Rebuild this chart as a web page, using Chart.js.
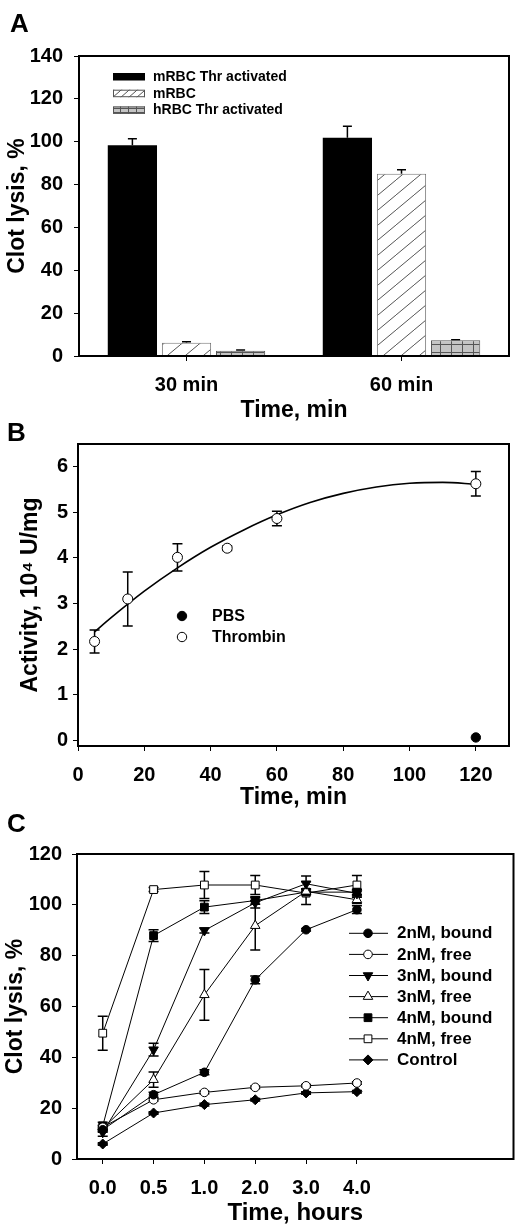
<!DOCTYPE html>
<html>
<head>
<meta charset="utf-8">
<script src="https://cdn.jsdelivr.net/npm/chart.js@4.4.1/dist/chart.umd.min.js"></script>
<style>
  body { margin: 0; background: #fff; width: 520px; height: 1228px; position: relative; overflow: hidden;
         font-family: "Liberation Sans", Arial, sans-serif; }
  canvas { position: absolute; left: 0; }
  .panel { position: absolute; font-weight: bold; font-size: 26px; line-height: 1; z-index: 2; }
</style>
</head>
<body>
<canvas id="chartA" width="520" height="425" style="top:0;width:520px;height:425px"></canvas>
<canvas id="chartB" width="520" height="395" style="top:420px;width:520px;height:395px"></canvas>
<canvas id="chartC" width="520" height="423" style="top:805px;width:520px;height:423px"></canvas>
<div class="panel" style="left:10px;top:10px">A</div>
<div class="panel" style="left:7px;top:419px">B</div>
<div class="panel" style="left:7px;top:810px">C</div>
<script>
// ---- panel A: clot lysis bars
const groups = ["30 min", "60 min"];
const mrbcThr = [98.4, 101.9];
const mrbcThrErr = [3.0, 5.3];
const mrbc = [6.2, 85.0];
const mrbcErr = [0.4, 1.9];
const hrbcThr = [2.5, 7.3];
const hrbcThrErr = [0.3, 0.3];

// ---- panel B: activity vs time
const actTimes = [5, 15, 30, 45, 60, 120];
const thrombin = [2.17, 3.10, 4.01, 4.21, 4.86, 5.62];
const thrombinErr = [0.25, 0.59, 0.30, 0.05, 0.16, 0.27];
const pbsTimes = [120];
const pbs = [0.07];
// fitted curve
const fitTimes = [5, 10, 20, 30, 40, 50, 60, 70, 80, 90, 100, 110, 120];
const fitAct = [2.38, 2.69, 3.27, 3.78, 4.23, 4.61, 4.94, 5.21, 5.41, 5.55, 5.63, 5.65, 5.61];

// ---- panel C: clot lysis vs time, categorical hours
const hours = ["0.0", "0.5", "1.0", "2.0", "3.0", "4.0"];
const bound2 = [11.5, 25.3, 34.1, 70.5, 90.2, 98.1];
const bound2Err = [1.0, 1.0, 1.0, 1.5, 0.5, 1.5];
const free2 = [12.5, 23.3, 26.2, 28.2, 28.8, 29.9];
const free2Err = [0.8, 0.5, 0.5, 0.5, 0.5, 0.5];
const bound3 = [10.5, 43.0, 89.9, 100.8, 108.3, 104.5];
const bound3Err = [1.5, 2.5, 1.0, 2.0, 3.0, 1.5];
const free3 = [12.0, 31.2, 64.6, 91.8, 105.3, 102.0];
const free3Err = [1.0, 3.0, 10.0, 9.6, 1.0, 1.5];
const bound4 = [13.0, 87.9, 99.1, 101.7, 105.0, 105.0];
const bound4Err = [1.5, 2.3, 2.5, 1.5, 1.0, 1.0];
const free4 = [49.5, 106.0, 107.8, 107.8, 104.6, 107.8];
const free4Err = [6.7, 0.8, 5.3, 3.7, 4.5, 3.7];
const control = [5.9, 18.1, 21.4, 23.3, 26.0, 26.5];
const controlErr = [0.5, 0.5, 0.5, 0.5, 0.5, 0.5];

Chart.defaults.font.family = '"Liberation Sans", Arial, sans-serif';
Chart.defaults.color = '#000';
Chart.defaults.animation = false;

const tickFont = { size: 20, weight: 'bold' };
const tickGrid = { drawOnChartArea: false, drawTicks: true, tickLength: 5, color: '#000', lineWidth: 1 };

// box around the plot area
const frame = {
  id: 'frame',
  afterDatasetsDraw(chart) {
    const a = chart.chartArea, ctx = chart.ctx;
    ctx.save();
    ctx.strokeStyle = '#000';
    ctx.lineWidth = 2;
    ctx.strokeRect(a.left, a.top, a.right - a.left, a.bottom - a.top);
    ctx.restore();
  }
};

// error bars from dataset.err
const errorBars = {
  id: 'errorBars',
  beforeDatasetsDraw(chart) {
    const ctx = chart.ctx, ys = chart.scales.y;
    chart.data.datasets.forEach((ds, i) => {
      if (!ds.err) return;
      const meta = chart.getDatasetMeta(i);
      ctx.save();
      ctx.strokeStyle = '#000';
      ctx.lineWidth = 1.5;
      meta.data.forEach((el, j) => {
        const d = ds.data[j];
        const v = typeof d === 'object' ? d.y : d;
        const e = ds.err[j];
        if (!e) return;
        const yTop = ys.getPixelForValue(v + e);
        const yBot = ys.getPixelForValue(ds.errUp ? v : v - e);
        const w = ds.cap || 5;
        ctx.beginPath();
        ctx.moveTo(el.x, yTop); ctx.lineTo(el.x, yBot);
        ctx.moveTo(el.x - w, yTop); ctx.lineTo(el.x + w, yTop);
        if (!ds.errUp) { ctx.moveTo(el.x - w, yBot); ctx.lineTo(el.x + w, yBot); }
        ctx.stroke();
      });
      ctx.restore();
    });
  }
};

function drawMarker(ctx, style, x, y, r, fill) {
  ctx.save();
  ctx.beginPath();
  if (style === 'circle') {
    ctx.arc(x, y, r, 0, Math.PI * 2);
  } else if (style === 'rect') {
    const s = r * Math.SQRT1_2;
    ctx.rect(x - s, y - s, 2 * s, 2 * s);
  } else if (style === 'triangle' || style === 'triangleDown') {
    const k = style === 'triangle' ? 1 : -1;
    ctx.moveTo(x, y - k * r);
    ctx.lineTo(x + r * 0.866, y + k * r * 0.5);
    ctx.lineTo(x - r * 0.866, y + k * r * 0.5);
    ctx.closePath();
  } else if (style === 'rectRot') {
    ctx.moveTo(x, y - r); ctx.lineTo(x + r, y); ctx.lineTo(x, y + r); ctx.lineTo(x - r, y);
    ctx.closePath();
  }
  ctx.fillStyle = fill;
  ctx.fill();
  ctx.lineWidth = 1;
  ctx.strokeStyle = '#000';
  ctx.stroke();
  ctx.restore();
}

// ---------- Panel A ----------
const ctxA = document.getElementById('chartA').getContext('2d');

function hatch(w, h, bg, color) {
  const c = document.createElement('canvas');
  c.width = w; c.height = h;
  const g = c.getContext('2d');
  g.fillStyle = bg; g.fillRect(0, 0, w, h);
  g.strokeStyle = color; g.lineWidth = 1;
  g.beginPath();
  g.moveTo(-w * 0.1, h * 1.1); g.lineTo(w * 1.1, -h * 0.1);
  g.stroke();
  return ctxA.createPattern(c, 'repeat');
}
function grid(w, h, bg, color) {
  const c = document.createElement('canvas');
  c.width = w; c.height = h;
  const g = c.getContext('2d');
  g.fillStyle = bg; g.fillRect(0, 0, w, h);
  g.fillStyle = color;
  g.fillRect(0, 0, w, 1);
  g.fillRect(0, 0, 1, h);
  return ctxA.createPattern(c, 'repeat');
}
const hatchBar = hatch(18, 15, '#fff', '#555');
const hatchKey = hatch(8, 7, '#fff', '#555');
const gridBar = grid(11, 8, '#c4c4c4', '#555');
const gridKey = grid(8, 4, '#c4c4c4', '#555');

const legendA = {
  id: 'legendA',
  afterDraw(chart) {
    const ctx = chart.ctx;
    const keys = [hatchKey, gridKey];
    chart.data.datasets.forEach((ds, i) => {
      const y = 76.7 + i * 16.7;
      ctx.save();
      ctx.fillStyle = i === 0 ? '#000' : keys[i - 1];
      ctx.fillRect(113, y - 3.7, 32, 7.5);
      if (i > 0) {
        ctx.strokeStyle = '#555'; ctx.lineWidth = 1;
        ctx.strokeRect(113.5, y - 3.2, 31, 6.5);
      }
      ctx.fillStyle = '#000';
      ctx.font = 'bold 14px "Liberation Sans", Arial, sans-serif';
      ctx.textBaseline = 'middle';
      ctx.fillText(ds.label, 153, y + 0.5);
      ctx.restore();
    });
  }
};

new Chart(ctxA, {
  type: 'bar',
  data: {
    labels: groups,
    datasets: [
      { label: 'mRBC Thr activated', data: mrbcThr, err: mrbcThrErr, errUp: true, cap: 4.5,
        backgroundColor: '#000', borderWidth: 0 },
      { label: 'mRBC', data: mrbc, err: mrbcErr, errUp: true, cap: 4.5,
        backgroundColor: hatchBar, borderColor: '#777', borderWidth: 1 },
      { label: 'hRBC Thr activated', data: hrbcThr, err: hrbcThrErr, errUp: true, cap: 4.5,
        backgroundColor: gridBar, borderColor: '#555', borderWidth: 1 }
    ]
  },
  options: {
    responsive: false,
    animation: false,
    categoryPercentage: 0.755,
    barPercentage: 0.91,
    layout: { padding: { top: 56, right: 11, left: 0, bottom: 0 } },
    plugins: { legend: { display: false }, tooltip: { enabled: false } },
    scales: {
      x: {
        grid: Object.assign({ offset: false }, tickGrid),
        border: { display: false },
        ticks: { font: tickFont, padding: 12 },
        title: { display: true, text: 'Time, min', font: { size: 23, weight: 'bold' }, padding: { top: 0, bottom: 1 } },
        afterFit(s) { s.height = 69; }
      },
      y: {
        min: 0, max: 140,
        grid: tickGrid,
        border: { display: false },
        ticks: { stepSize: 20, font: tickFont, padding: 11 },
        title: { display: true, text: 'Clot lysis, %', font: { size: 23, weight: 'bold' }, padding: { top: 4, bottom: 0 } },
        afterFit(s) { s.width = 79; }
      }
    }
  },
  plugins: [errorBars, frame, legendA]
});

// ---------- Panel B ----------
const legendB = {
  id: 'legendB',
  afterDraw(chart) {
    const ctx = chart.ctx;
    const rows = [['PBS', '#000'], ['Thrombin', '#fff']];
    rows.forEach((r, i) => {
      const y = 196 + i * 21;
      drawMarker(ctx, 'circle', 182, y, 4.7, r[1]);
      ctx.save();
      ctx.fillStyle = '#000';
      ctx.font = 'bold 16px "Liberation Sans", Arial, sans-serif';
      ctx.textBaseline = 'middle';
      ctx.fillText(chart.data.datasets[i].label, 212, y + 0.5);
      ctx.restore();
    });
  }
};

new Chart(document.getElementById('chartB'), {
  type: 'scatter',
  data: {
    datasets: [
      { label: 'PBS', data: pbsTimes.map((x, i) => ({ x, y: pbs[i] })),
        pointStyle: 'circle', pointRadius: 4.7, pointBackgroundColor: '#000', pointBorderColor: '#000', pointBorderWidth: 1 },
      { label: 'Thrombin', data: actTimes.map((x, i) => ({ x, y: thrombin[i] })), err: thrombinErr, cap: 5,
        pointStyle: 'circle', pointRadius: 5, pointBackgroundColor: '#fff', pointBorderColor: '#000', pointBorderWidth: 1 },
      { label: 'fit', data: fitTimes.map((x, i) => ({ x, y: fitAct[i] })), showLine: true,
        pointRadius: 0, borderColor: '#000', borderWidth: 1.6, cubicInterpolationMode: 'monotone' }
    ]
  },
  options: {
    responsive: false,
    animation: false,
    layout: { padding: { top: 24, right: 11, left: 0, bottom: 0 } },
    plugins: { legend: { display: false }, tooltip: { enabled: false } },
    scales: {
      x: {
        type: 'linear', min: 0, max: 130,
        grid: tickGrid,
        border: { display: false },
        ticks: { stepSize: 20, includeBounds: false, font: tickFont, padding: 12 },
        title: { display: true, text: 'Time, min', font: { size: 23, weight: 'bold' }, padding: { top: 0, bottom: 4 } },
        afterFit(s) { s.height = 69; }
      },
      y: {
        min: -0.117, max: 6.49,
        grid: tickGrid,
        border: { display: false },
        ticks: { stepSize: 1, includeBounds: false, font: tickFont, padding: 5 },
        title: { display: true, text: 'Activity, 10\u2074 U/mg', font: { size: 23, weight: 'bold' }, padding: { top: 17, bottom: 0 } },
        afterFit(s) { s.width = 78; }
      }
    }
  },
  plugins: [errorBars, frame, legendB]
});

// ---------- Panel C ----------
const seriesC = [
  { label: '2nM, bound', values: bound2, err: bound2Err, style: 'circle', r: 4.3, fill: '#000' },
  { label: '2nM, free', values: free2, err: free2Err, style: 'circle', r: 4.3, fill: '#fff' },
  { label: '3nM, bound', values: bound3, err: bound3Err, style: 'triangleDown', r: 5.5, fill: '#000' },
  { label: '3nM, free', values: free3, err: free3Err, style: 'triangle', r: 5.5, fill: '#fff' },
  { label: '4nM, bound', values: bound4, err: bound4Err, style: 'rect', r: 5.5, fill: '#000' },
  { label: '4nM, free', values: free4, err: free4Err, style: 'rect', r: 5.5, fill: '#fff' },
  { label: 'Control', values: control, err: controlErr, style: 'rectRot', r: 5, fill: '#000' }
];

const legendC = {
  id: 'legendC',
  afterDraw(chart) {
    const ctx = chart.ctx;
    seriesC.forEach((s, i) => {
      const y = 128.3 + i * 21.1;
      ctx.save();
      ctx.strokeStyle = '#000'; ctx.lineWidth = 1;
      ctx.beginPath(); ctx.moveTo(349, y); ctx.lineTo(388, y); ctx.stroke();
      ctx.restore();
      drawMarker(ctx, s.style, 368, y, s.r, s.fill);
      ctx.save();
      ctx.fillStyle = '#000';
      ctx.font = 'bold 17px "Liberation Sans", Arial, sans-serif';
      ctx.textBaseline = 'middle';
      ctx.fillText(s.label, 397, y + 0.5);
      ctx.restore();
    });
  }
};

new Chart(document.getElementById('chartC'), {
  type: 'line',
  data: {
    datasets: seriesC.map(s => ({
      label: s.label,
      data: s.values.map((y, i) => ({ x: i, y })),
      err: s.err, cap: 5,
      borderColor: '#000', borderWidth: 1,
      pointStyle: s.style === 'triangleDown' ? 'triangle' : s.style,
      pointRotation: s.style === 'triangleDown' ? 180 : 0,
      pointRadius: s.r,
      pointBackgroundColor: s.fill,
      pointBorderColor: '#000',
      pointBorderWidth: 1,
      tension: 0
    }))
  },
  options: {
    responsive: false,
    animation: false,
    layout: { padding: { top: 49, right: 3, left: 0, bottom: 0 } },
    plugins: { legend: { display: false }, tooltip: { enabled: false } },
    scales: {
      x: {
        type: 'linear', min: -0.506, max: 8.08,
        grid: tickGrid,
        border: { display: false },
        afterBuildTicks(s) { s.ticks = hours.map((_, i) => ({ value: i })); },
        ticks: { font: tickFont, padding: 12, callback: (v, i) => hours[i] },
        title: { display: true, text: 'Time, hours', font: { size: 24, weight: 'bold' }, padding: { top: 0, bottom: 0 } },
        afterFit(s) { s.height = 69; }
      },
      y: {
        min: 0, max: 120,
        grid: tickGrid,
        border: { display: false },
        ticks: { stepSize: 20, font: tickFont, padding: 10 },
        title: { display: true, text: 'Clot lysis, %', font: { size: 23, weight: 'bold' }, padding: { top: 2, bottom: 0 } },
        afterFit(s) { s.width = 77; }
      }
    }
  },
  plugins: [errorBars, frame, legendC]
});
</script>
</body>
</html>
